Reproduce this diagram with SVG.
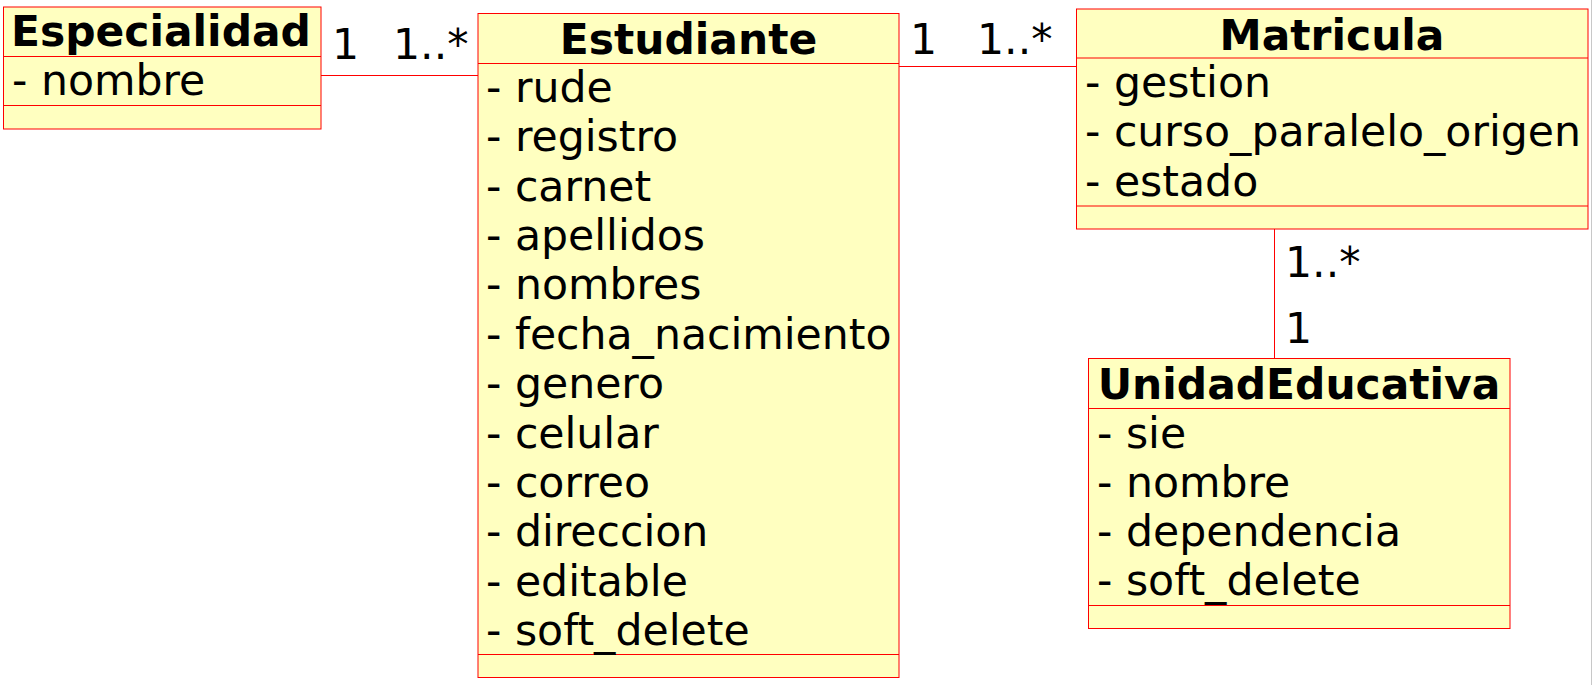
<svg xmlns="http://www.w3.org/2000/svg" width="1595" height="685" viewBox="0 0 1595 685">
<style>
.box{fill:#FFFFC0;stroke:#FF0000;stroke-width:1}
.sep{stroke:#FF0000;stroke-width:1}
.title{font-family:"DejaVu Sans",sans-serif;font-size:42.4px;font-weight:bold;fill:#000;text-anchor:middle}
.attr{font-family:"DejaVu Sans",sans-serif;font-size:42.6px;fill:#000}
.lbl{font-family:"DejaVu Sans",sans-serif;font-size:42.6px;fill:#000}
.conn{stroke:#FF0000;stroke-width:1;fill:none}
</style>
<rect x="0" y="0" width="1595" height="685" fill="#FFFFFF"/>
<line x1="1591.5" y1="0" x2="1591.5" y2="685" stroke="#C8C8C8" stroke-width="1"/>
<g id="connectors">
<line class="conn" x1="321" y1="75.5" x2="478" y2="75.5"/>
<line class="conn" x1="899" y1="66.5" x2="1076" y2="66.5"/>
<line class="conn" x1="1274.5" y1="229" x2="1274.5" y2="358.5"/>
<text class="lbl" x="332" y="59">1</text>
<text class="lbl" x="393" y="59">1..*</text>
<text class="lbl" x="910" y="54">1</text>
<text class="lbl" x="977" y="54">1..*</text>
<text class="lbl" x="1285" y="277">1..*</text>
<text class="lbl" x="1285" y="343">1</text>
</g>
<g id="Especialidad">
<rect class="box" x="3.5" y="7" width="317.5" height="122"/>
<line class="sep" x1="3.5" y1="56.5" x2="321" y2="56.5"/>
<line class="sep" x1="3.5" y1="105.5" x2="321" y2="105.5"/>
<text class="title" x="161" y="46">Especialidad</text>
<text class="attr" x="12" y="95">- nombre</text>
</g>
<g id="Estudiante">
<rect class="box" x="478" y="13.5" width="421" height="664"/>
<line class="sep" x1="478" y1="63.5" x2="899" y2="63.5"/>
<line class="sep" x1="478" y1="654.5" x2="899" y2="654.5"/>
<text class="title" x="688.5" y="54">Estudiante</text>
<text class="attr" x="486" y="102">- rude</text>
<text class="attr" x="486" y="151.4">- registro</text>
<text class="attr" x="486" y="200.7">- carnet</text>
<text class="attr" x="486" y="250.1">- apellidos</text>
<text class="attr" x="486" y="299.4">- nombres</text>
<text class="attr" x="486" y="348.8">- fecha_nacimiento</text>
<text class="attr" x="486" y="398.2">- genero</text>
<text class="attr" x="486" y="447.5">- celular</text>
<text class="attr" x="486" y="496.9">- correo</text>
<text class="attr" x="486" y="546.2">- direccion</text>
<text class="attr" x="486" y="595.6">- editable</text>
<text class="attr" x="486" y="645">- soft_delete</text>
</g>
<g id="Matricula">
<rect class="box" x="1076.5" y="9" width="511.5" height="220"/>
<line class="sep" x1="1076.5" y1="58" x2="1588" y2="58"/>
<line class="sep" x1="1076.5" y1="206" x2="1588" y2="206"/>
<text class="title" x="1332" y="50">Matricula</text>
<text class="attr" x="1085" y="97">- gestion</text>
<text class="attr" x="1085" y="146.3">- curso_paralelo_origen</text>
<text class="attr" x="1085" y="195.6">- estado</text>
</g>
<g id="UnidadEducativa">
<rect class="box" x="1088.5" y="358.5" width="421.5" height="270"/>
<line class="sep" x1="1088.5" y1="408.5" x2="1510" y2="408.5"/>
<line class="sep" x1="1088.5" y1="605.5" x2="1510" y2="605.5"/>
<text class="title" x="1299" y="399">UnidadEducativa</text>
<text class="attr" x="1097" y="447.5">- sie</text>
<text class="attr" x="1097" y="496.8">- nombre</text>
<text class="attr" x="1097" y="546">- dependencia</text>
<text class="attr" x="1097" y="595.3">- soft_delete</text>
</g>
</svg>
